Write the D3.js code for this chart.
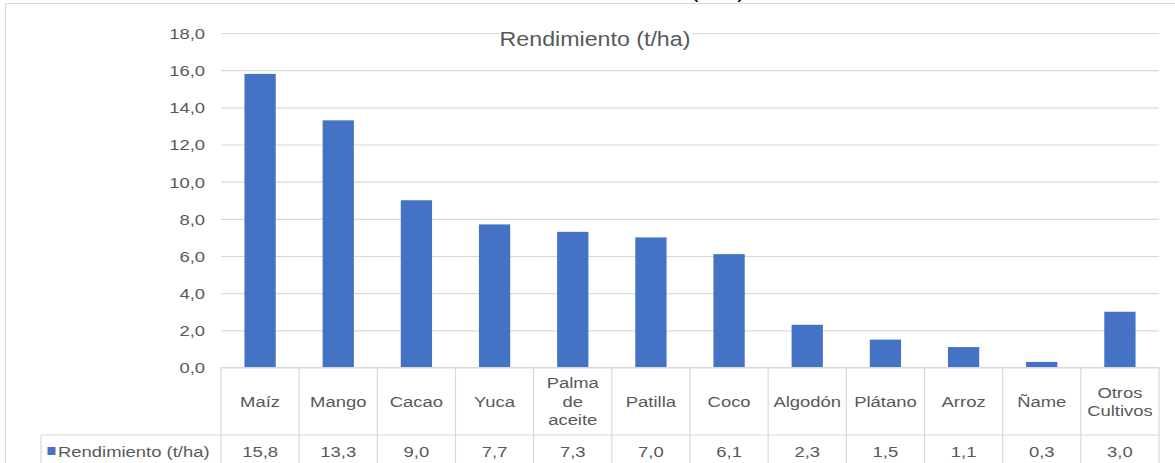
<!DOCTYPE html>
<html>
<head>
<meta charset="utf-8">
<script src="https://cdn.jsdelivr.net/npm/d3@7"></script>
<style>
body { margin: 0; background: #fff; }
text { font-family: "Liberation Sans", Arial, sans-serif; fill: #595959; }
</style>
</head>
<body>
<svg width="1175" height="463"></svg>
<script>
const categories = ["Maíz", "Mango", "Cacao", "Yuca", "Palma de aceite", "Patilla", "Coco", "Algodón", "Plátano", "Arroz", "Ñame", "Otros Cultivos"]
const values = [15.8, 13.3, 9.0, 7.7, 7.3, 7.0, 6.1, 2.3, 1.5, 1.1, 0.3, 3.0]
const yTicks = [0, 2, 4, 6, 8, 10, 12, 14, 16, 18]
const seriesName = "Rendimiento (t/ha)"

const width = 1175, height = 463
const plotLeft = 221, plotRight = 1159, plotTop = 33, base = 367.5
const rowLine = 435, legendLeft = 41
const stretch = 1.19
const blue = "#4472c4", grid = "#d9d9d9"

const svg = d3.select("svg")
const comma = v => d3.format(".1f")(v).replace(".", ",")
const at = (px, py) => `translate(${px},${py}) scale(${stretch},1)`

const x = d3.scaleBand().domain(categories).range([plotLeft, plotRight]).paddingInner(0.6).paddingOuter(0.3)
const y = d3.scaleLinear().domain([0, 18]).range([base, plotTop])
const half = (x.step() - x.bandwidth()) / 2

// title above the frame (cut off by the picture edge)
svg.append("text")
   .attr("transform", at(745, -2))
   .attr("text-anchor", "end")
   .style("font-size", "19.5px")
   .style("fill", "#000")
   .text(seriesName)

// outer frame
svg.append("rect")
   .attr("x", 5.5).attr("y", 3.5)
   .attr("width", width + 20).attr("height", height + 20)
   .attr("fill", "none").attr("stroke", grid)

// y axis with gridlines
const yAxis = svg.append("g")
   .attr("transform", `translate(${plotLeft},0)`)
   .call(d3.axisLeft(y).tickValues(yTicks).tickSize(-(plotRight - plotLeft)).tickFormat(comma))
yAxis.select(".domain").remove()
yAxis.selectAll("line").attr("stroke", grid).attr("stroke-width", 1.2)
yAxis.selectAll("text")
   .attr("x", null).attr("dy", null)
   .attr("transform", at(-16, 5.4))
   .attr("text-anchor", "end")
   .attr("fill", null)
   .style("font-size", "15.5px")
yAxis.attr("font-family", null).attr("font-size", null)

// chart title inside plot
svg.append("rect")
   .attr("x", 500).attr("y", 30).attr("width", 192).attr("height", 20)
   .attr("fill", "#fff")
svg.append("text")
   .attr("transform", at(595, 45.5))
   .attr("text-anchor", "middle")
   .style("font-size", "19.5px")
   .text(seriesName)

// bars
svg.selectAll("rect.bar")
   .data(values)
   .join("rect")
   .attr("class", "bar")
   .attr("x", (d, i) => x(categories[i]))
   .attr("y", d => y(d))
   .attr("width", x.bandwidth())
   .attr("height", d => base - y(d))
   .attr("fill", blue)

// data table
const edges = categories.map(c => x(c) - half).concat([plotRight])
svg.selectAll("line.col")
   .data(edges)
   .join("line")
   .attr("class", "col")
   .attr("x1", d => d).attr("x2", d => d)
   .attr("y1", base).attr("y2", height + 5)
   .attr("stroke", grid).attr("stroke-width", 1.2)

svg.append("line")
   .attr("x1", plotLeft).attr("x2", plotRight).attr("y1", base).attr("y2", base)
   .attr("stroke", grid).attr("stroke-width", 1.2)
svg.append("line")
   .attr("x1", legendLeft).attr("x2", plotRight).attr("y1", rowLine).attr("y2", rowLine)
   .attr("stroke", grid).attr("stroke-width", 1.2)
svg.append("line")
   .attr("x1", legendLeft).attr("x2", legendLeft).attr("y1", rowLine).attr("y2", height + 5)
   .attr("stroke", grid).attr("stroke-width", 1.2)

// category labels, wrapped like the spreadsheet does
const lineH = 18.5, midRow = (base + rowLine) / 2
svg.selectAll("text.cat")
   .data(categories)
   .join("text")
   .attr("class", "cat")
   .attr("text-anchor", "middle")
   .style("font-size", "15.5px")
   .each(function(c) {
      const t = d3.select(this)
      const words = c.split(" ")
      const lines = []
      let cur = ""
      words.forEach(w => {
         const test = cur ? cur + " " + w : w
         t.text(test)
         if (cur && this.getComputedTextLength() * stretch > x.step() - 8) {
            lines.push(cur)
            cur = w
         } else cur = test
      })
      lines.push(cur)
      t.text(null)
      const cx = x(c) + x.bandwidth() / 2
      const y0 = midRow - (lines.length - 1) * lineH / 2 + 5.5
      lines.forEach((l, j) => {
         t.append("tspan").attr("x", 0).attr("y", j * lineH).text(l)
      })
      t.attr("transform", at(cx, y0))
   })

// values row
svg.selectAll("text.val")
   .data(values)
   .join("text")
   .attr("class", "val")
   .attr("text-anchor", "middle")
   .attr("transform", (d, i) => at(x(categories[i]) + x.bandwidth() / 2, 456.5))
   .style("font-size", "15.5px")
   .text(d => comma(d))

// legend key
svg.append("rect")
   .attr("x", 47.5).attr("y", 447).attr("width", 8).attr("height", 8)
   .attr("fill", blue)
svg.append("text")
   .attr("transform", at(58, 456.5))
   .style("font-size", "15.5px")
   .text(seriesName)
</script>
</body>
</html>
